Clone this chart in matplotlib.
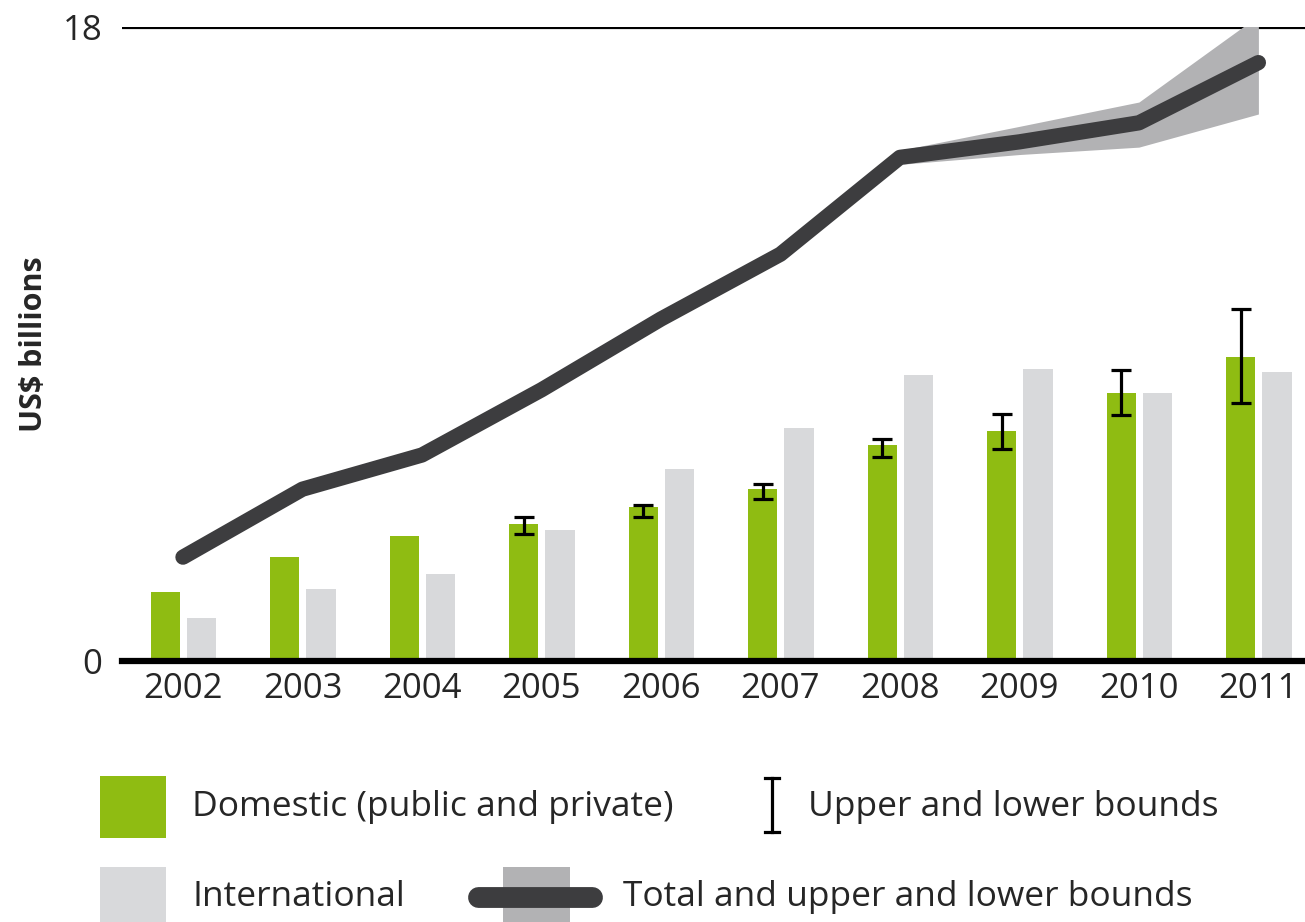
import matplotlib
matplotlib.use('Agg')
import matplotlib.pyplot as plt
import numpy as np
from matplotlib.patches import Rectangle

plt.rcParams['font.family'] = ['Open Sans', 'DejaVu Sans']

years = ['2002', '2003', '2004', '2005', '2006', '2007', '2008', '2009', '2010', '2011']
domestic = [1.96, 2.95, 3.55, 3.89, 4.37, 4.88, 6.13, 6.53, 7.61, 8.63]
international = [1.22, 2.05, 2.47, 3.72, 5.45, 6.62, 8.12, 8.29, 7.61, 8.21]
# bounds on domestic only given from 2005 on
dom_low = [3.61, 4.10, 4.59, 5.79, 6.02, 6.98, 7.33]
dom_high = [4.09, 4.43, 5.03, 6.30, 7.01, 8.25, 10.0]
total = [2.95, 4.88, 5.85, 7.70, 9.71, 11.55, 14.30, 14.74, 15.28, 16.99]
total_low = [2.95, 4.88, 5.85, 7.70, 9.71, 11.55, 14.10, 14.38, 14.59, 15.53]
total_high = [2.95, 4.88, 5.85, 7.70, 9.71, 11.55, 14.50, 15.18, 15.87, 18.32]

green = '#8fbc12'
light = '#d8d9db'
dark = '#3d3d3f'
band = '#b2b2b4'
txt = '#262626'

fig = plt.figure(figsize=(13.05, 9.22), dpi=100)
ax = fig.add_axes([0.0935, 0.283, 0.9065, 0.6877])

x = np.arange(len(years))
ax.bar(x - 0.148, domestic, 0.245, color=green, zorder=2)
ax.bar(x + 0.155, international, 0.245, color=light, zorder=2)

xe = x[3:] - 0.148
dom_e = np.array(domestic[3:])
yerr = [dom_e - np.array(dom_low), np.array(dom_high) - dom_e]
ax.errorbar(xe, dom_e, yerr=yerr, fmt='none', ecolor='black', elinewidth=2.3,
            capsize=7.5, capthick=2.3, zorder=3)

ax.fill_between(x, total_low, total_high, color=band, lw=0, zorder=4)
ax.plot(x, total, color=dark, lw=11, solid_capstyle='round',
        solid_joinstyle='round', zorder=5)

ax.axhline(18, color='black', lw=2.3, zorder=1)
ax.set_ylim(0, 18)
ax.set_xlim(-0.51, 9.39)
for s in ['top', 'right', 'left']:
    ax.spines[s].set_visible(False)
ax.spines['bottom'].set_linewidth(4.5)
ax.spines['bottom'].set_zorder(6)

ax.set_yticks([0, 18])
ax.set_yticklabels(['0', '18'])
ax.set_xticks(x)
ax.set_xticklabels(years)
ax.tick_params(axis='y', length=0, pad=14, labelsize=25, labelcolor=txt)
ax.tick_params(axis='x', length=0, pad=8, labelsize=25, labelcolor=txt)
ax.set_ylabel('US$ billions', fontsize=22, fontweight='bold', color=txt)
ax.yaxis.set_label_coords(-0.062, 0.5)

# legend drawn in pixel space under the chart
lax = fig.add_axes([0, 0, 1, 1], zorder=-1)
lax.set_xlim(0, 1305)
lax.set_ylim(922, 0)
lax.axis('off')
lax.add_patch(Rectangle((100, 776), 66, 62, color=green, lw=0))
lax.add_patch(Rectangle((100, 867), 66, 60, color=light, lw=0))
lax.text(192, 807, 'Domestic (public and private)', fontsize=25.5, color=txt, va='center')
lax.text(192, 897, 'International', fontsize=25.5, color=txt, va='center')
lax.plot([772, 772], [778, 832], color='black', lw=2.3)
lax.plot([765, 779], [778, 778], color='black', lw=2.3)
lax.plot([765, 779], [832, 832], color='black', lw=2.3)
lax.text(808, 807, 'Upper and lower bounds', fontsize=25.5, color=txt, va='center')
lax.add_patch(Rectangle((503, 867), 67, 60, color=band, lw=0))
lax.plot([478, 592], [897, 897], color=dark, lw=15, solid_capstyle='round')
lax.text(623, 897, 'Total and upper and lower bounds', fontsize=25.5, color=txt, va='center')

plt.savefig('out.png', dpi=100)
